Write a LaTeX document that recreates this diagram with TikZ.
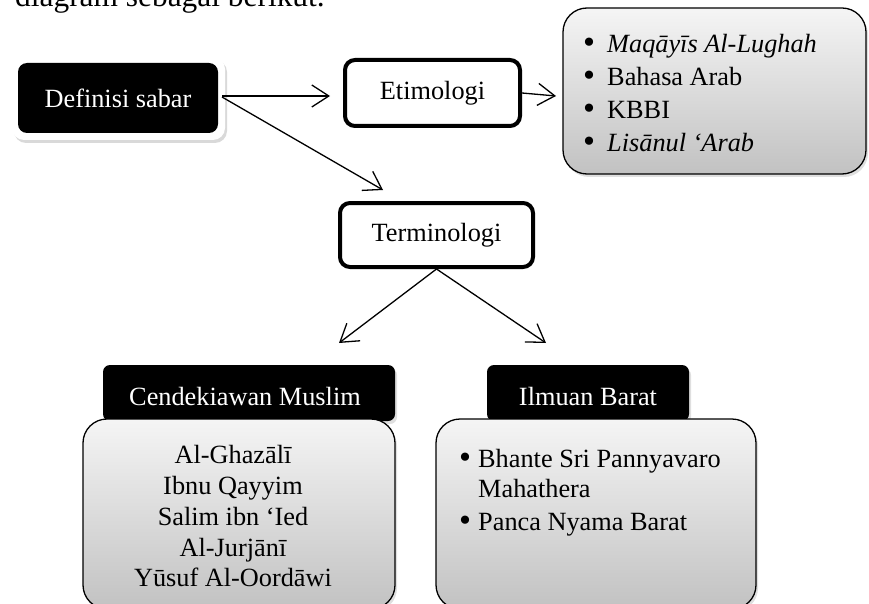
\documentclass[tikz,border=0pt]{standalone}
\usepackage{fontspec}
\setmainfont{Liberation Serif}
\usetikzlibrary{arrows.meta,shadows}
\newcommand{\mybul}{\smash{\raisebox{-1pt}{\scalebox{1.3}{•}}}}
\begin{document}
\begin{tikzpicture}[x=1pt,y=-1pt,
  txt/.style={font=\fontsize{26.3}{30.5}\selectfont, inner sep=0pt},
  bigtxt/.style={font=\fontsize{31.4}{36}\selectfont, inner sep=0pt},
  arr/.style={line width=1.3pt, -{Straight Barb[length=17pt,width=22pt,line width=1.3pt]}},
  whitebox/.style={draw=black, line width=4pt, fill=white, rounded corners=10pt, inner sep=0pt},
  graybox/.style={draw=black, line width=1.3pt, rounded corners=24pt, top color=gray!8, bottom color=gray!48,
     drop shadow={opacity=0.25, shadow xshift=2pt, shadow yshift=-3pt}, inner sep=0pt},
  headbox/.style={fill=black, text=white, rounded corners=7pt, inner sep=0pt,
     drop shadow={opacity=0.25, shadow xshift=2pt, shadow yshift=-3pt}},
  bul/.style={txt, anchor=base west},
  ctr/.style={txt, anchor=base}
]
\useasboundingbox (0,0) rectangle (869,604);

% partial line of text at top
\node[bigtxt, anchor=base west] (intro) at (15,7) {diagram sebagai berikut.};

% Definisi sabar
\node[fill=white, rounded corners=12pt, minimum width=213pt, minimum height=83pt, inner sep=0pt,
      drop shadow={opacity=0.3, shadow xshift=2pt, shadow yshift=-3pt}] (defo) at (118.5,98.5) {};
\node[fill=black, text=white, rounded corners=9pt, minimum width=200pt, minimum height=70pt, inner sep=0pt, txt] (def) at (118,98) {Definisi sabar};

% Etimologi
\node[whitebox, txt, minimum width=175pt, minimum height=66pt] (etim) at (432.5,93) {Etimologi};

% Terminologi
\node[whitebox, txt, minimum width=193pt, minimum height=64pt] (term) at (436.5,235) {Terminologi};

% Etymology list box
\node[graybox, minimum width=303pt, minimum height=166pt] (elist) at (714.5,91) {};
\node[bul] (e1) at (583,53) {\makebox[24pt][l]{\mybul}\textit{Maqāyīs Al-Lughah}};
\node[bul] (e2) at (583,86) {\makebox[24pt][l]{\mybul}Bahasa Arab};
\node[bul] (e3) at (583,119) {\makebox[24pt][l]{\mybul}KBBI};
\node[bul] (e4) at (583,152) {\makebox[24pt][l]{\mybul}\textit{Lisānul ‘Arab}};

% Cendekiawan Muslim
\node[headbox, txt, minimum width=292pt, minimum height=56pt] (cmh) at (249,393) {};
\node[ctr, text=white] (cmt) at (245,405) {Cendekiawan Muslim};
\node[graybox, minimum width=312pt, minimum height=190pt] (cmb) at (239,514) {};
\node[ctr] (c1) at (233,463) {Al-Ghazālī};
\node[ctr] (c2) at (233,494) {Ibnu Qayyim};
\node[ctr] (c3) at (233,525) {Salim ibn ‘Ied};
\node[ctr] (c4) at (233,556) {Al-Jurjānī};
\node[ctr] (c5) at (233,586) {Yūsuf Al-Oordāwi};

% Ilmuan Barat
\node[headbox, minimum width=202pt, minimum height=56pt] (ibh) at (588,393) {};
\node[ctr, text=white] (ibt) at (588,405) {Ilmuan Barat};
\node[graybox, minimum width=320pt, minimum height=190pt] (ibb) at (596,514) {};
\node[bul] (i1) at (459,467) {\makebox[19pt][l]{\mybul}Bhante Sri Pannyavaro};
\node[bul] (i2) at (478,497) {Mahathera};
\node[bul] (i3) at (459,530) {\makebox[19pt][l]{\mybul}Panca Nyama Barat};

% connectors
\coordinate (t1) at (330,96);
\coordinate (t2) at (556,96);
\coordinate (t3) at (383,190);
\coordinate (t4) at (339,343);
\coordinate (t5) at (546,343);
\coordinate (s1) at (222,96);
\coordinate (s2) at (222,97);
\draw[arr] (s1) -- (t1);
\draw[arr] (etim.east) -- (t2);
\draw[arr] (s2) -- (t3);
\draw[arr] (term.south) -- (t4);
\draw[arr] (term.south) -- (t5);
\end{tikzpicture}
\end{document}
